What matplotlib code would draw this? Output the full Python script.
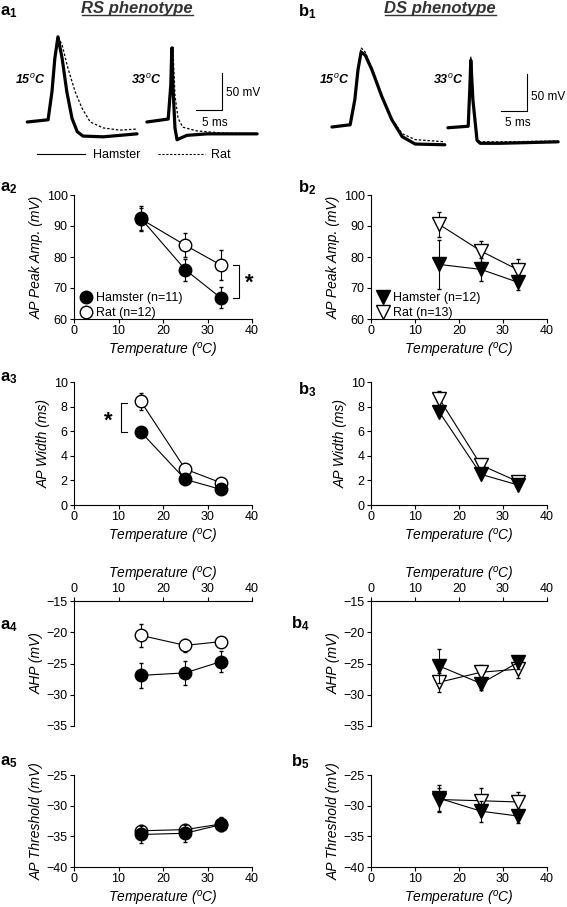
import numpy as np
import matplotlib
matplotlib.use("Agg")

import matplotlib.pyplot as plt
from matplotlib.lines import Line2D

plt.rcParams['font.family'] = ['Liberation Sans', 'DejaVu Sans']
plt.rcParams['mathtext.fontset'] = 'custom'
plt.rcParams['mathtext.rm'] = 'Liberation Sans'
plt.rcParams['mathtext.it'] = 'Liberation Sans:italic'
plt.rcParams['mathtext.bf'] = 'Liberation Sans:bold'

W, H = 567, 907

# ---- data ----
temp_rs = [15, 25, 33]
temp_ds = [15.5, 25, 33.5]

# RS phenotype
rs_amp_ham, rs_amp_ham_err = [92.5, 75.9, 66.8], [4.0, 3.5, 3.4]
rs_amp_rat, rs_amp_rat_err = [92.3, 83.8, 77.4], [3.5, 3.9, 4.9]
rs_wid_ham, rs_wid_ham_err = [5.95, 2.08, 1.27], [0.3, 0.2, 0.15]
rs_wid_rat, rs_wid_rat_err = [8.43, 2.92, 1.81], [0.7, 0.2, 0.15]
rs_ahp_ham, rs_ahp_ham_err = [-26.9, -26.5, -24.7], [2.0, 1.9, 1.7]
rs_ahp_rat, rs_ahp_rat_err = [-20.5, -22.1, -21.5], [1.8, 1.1, 0.6]
rs_thr_ham, rs_thr_ham_err = [-34.7, -34.5, -33.1], [1.4, 1.4, 1.1]
rs_thr_rat, rs_thr_rat_err = [-34.1, -33.9, -33.0], [1.0, 0.9, 1.1]

# DS phenotype
ds_amp_ham, ds_amp_ham_err = [77.6, 76.0, 71.8], [8.0, 3.6, 2.4]
ds_amp_rat, ds_amp_rat_err = [90.5, 81.9, 75.8], [3.9, 3.4, 3.5]
ds_wid_ham, ds_wid_ham_err = [7.57, 2.49, 1.62], [0.3, 0.2, 0.15]
ds_wid_rat, ds_wid_rat_err = [8.65, 3.24, 1.89], [0.6, 0.2, 0.15]
ds_ahp_ham, ds_ahp_ham_err = [-25.4, -28.2, -24.8], [2.7, 1.1, 1.0]
ds_ahp_rat, ds_ahp_rat_err = [-28.0, -26.4, -25.9], [1.5, 1.2, 1.4]
ds_thr_ham, ds_thr_ham_err = [-28.8, -30.9, -31.7], [2.2, 1.7, 1.2]
ds_thr_rat, ds_thr_rat_err = [-29.0, -29.2, -29.4], [1.8, 2.0, 1.7]

# example AP traces (ms, mV)
rs15_ham_t = [1.4, 5.4, 6.15, 6.7, 7.3, 8.1, 9.0, 10.0, 11.0, 12.1, 16.0, 22.5]
rs15_ham_v = [-65, -62, -24, 21, 50, 21, -24, -60, -78, -84, -85, -81]
rs15_rat_t = [1.4, 5.4, 6.15, 6.7, 7.3, 8.1, 9.2, 10.6, 11.9, 13.5, 16.0, 19.2, 22.5]
rs15_rat_v = [-65, -62, -24, 21, 50, 39, 8, -24, -46, -65, -73, -76, -74.5]
rs33_ham_t = [24.4, 28.5, 29.0, 29.2, 29.4, 29.8, 30.2, 30.8, 32.1, 36.0, 45.6]
rs33_ham_v = [-65, -61, -15, 35, -15, -73, -89, -87, -83, -81, -81]
rs33_rat_t = [24.4, 28.5, 29.0, 29.4, 29.8, 30.4, 31.3, 34.0, 39.0, 45.6]
rs33_rat_v = [-65, -61, -15, 36, -29, -60, -72, -77, -80, -81]

ds15_ham_t = [2.3, 5.8, 6.7, 7.3, 7.9, 8.7, 10.0, 11.9, 13.8, 15.8, 18.3, 24.0]
ds15_ham_v = [-65, -62, -28, 12, 36, 32, 12, -24, -55, -78, -88, -89]
ds15_rat_t = [2.3, 5.8, 6.7, 7.3, 7.9, 8.7, 10.0, 11.9, 13.8, 15.8, 18.3, 24.0]
ds15_rat_v = [-65, -62, -28, 12, 42, 36, 14, -23, -54, -74, -82, -85]
ds33_ham_t = [24.6, 28.5, 28.8, 29.0, 29.2, 29.4, 30.2, 30.8, 34.6, 45.8]
ds33_ham_v = [-66, -64, -15, 25, -1, -28, -83, -87, -87, -85]
ds33_rat_t = [24.6, 28.5, 28.8, 29.0, 29.2, 29.4, 30.2, 30.8, 34.6, 45.8]
ds33_rat_v = [-66, -64, -15, 30, 2, -26, -81, -85, -85, -84]

fig = plt.figure(figsize=(W / 100, H / 100), dpi=100)


def px_axes(x0, y0, x1, y1):
    return fig.add_axes([x0 / W, 1 - y1 / H, (x1 - x0) / W, (y1 - y0) / H])


def ftext(x, y, s, **kw):
    fig.text(x / W, 1 - y / H, s, **kw)


def fline(xs, ys, **kw):
    fig.add_artist(Line2D([x / W for x in xs], [1 - y / H for y in ys], **kw))


# ---- traces ----
def trace_panel(x0, x1, base_py, traces, scale):
    ax = px_axes(x0, 25, x1, 160)
    ax.set_xlim(0, (x1 - x0) / 5.2)
    ax.set_ylim(-65 + (base_py - 160) * 1.35, -65 + (base_py - 25) * 1.35)
    ax.axis("off")
    for t, v, style in traces:
        if style == "ham":
            ax.plot(t, v, color="k", lw=2.3, solid_joinstyle="round", solid_capstyle="round")
        else:
            ax.plot(t, v, color="k", lw=0.9, dashes=(2, 1.5))
    sx0, sx1, sy0, sy1 = scale
    ax.plot([sx0, sx1, sx1], [sy0, sy0, sy1], color="k", lw=0.8)
    return ax


trace_panel(20, 280, 122,
            [(rs15_ham_t, rs15_ham_v, "ham"), (rs15_rat_t, rs15_rat_v, "rat"),
             (rs33_ham_t, rs33_ham_v, "ham"), (rs33_rat_t, rs33_rat_v, "rat")],
            (33.8, 38.8, -49, 1))
trace_panel(320, 565, 127,
            [(ds15_ham_t, ds15_ham_v, "ham"), (ds15_rat_t, ds15_rat_v, "rat"),
             (ds33_ham_t, ds33_ham_v, "ham"), (ds33_rat_t, ds33_rat_v, "rat")],
            (34.8, 39.8, -43.4, 6.6))

# trace annotations
for x, lbl in [(30, "15$^o$C"), (146, "33$^o$C"), (334, "15$^o$C"), (448, "33$^o$C")]:
    ftext(x, 80, lbl, fontsize=9, fontweight="bold", style="italic", ha="center", va="center")
ftext(226, 93, "50 mV", fontsize=8.5, ha="left", va="center")
ftext(215, 123, "5 ms", fontsize=8.5, ha="center", va="center")
ftext(531, 97, "50 mV", fontsize=8.5, ha="left", va="center")
ftext(518, 123, "5 ms", fontsize=8.5, ha="center", va="center")

fline([37, 85], [154, 154], color="k", lw=0.8)
ftext(93, 155, "Hamster", fontsize=9, ha="left", va="center")
fline([158, 205], [154, 154], color="k", lw=0.8, dashes=(2, 1.5))
ftext(211, 155, "Rat", fontsize=9, ha="left", va="center")

# titles
for xc, x0, x1, s in [(137, 82, 193, "RS phenotype"), (440, 385, 496, "DS phenotype")]:
    ftext(xc, 8, s, fontsize=12, fontweight="bold", style="italic", ha="center", va="center",
          color="#333333")
    fline([x0, x1], [15, 15], color="#333333", lw=1.0)

# panel letters
for x, y, s in [(0, 12, "a_1"), (298, 12, "b_1"), (0, 188, "a_2"), (298, 188, "b_2"),
                (0, 378, "a_3"), (298, 390, "b_3"), (0, 626, "a_4"), (291, 624, "b_4"),
                (0, 762, "a_5"), (291, 762, "b_5")]:
    letter, num = s.split("_")
    ftext(x, y, r"$\mathbf{%s}_{\mathbf{%s}}$" % (letter, num), fontsize=12, ha="left", va="center")


# ---- summary plots ----
def summary(ax, temp, ham, ham_err, rat, rat_err, marker, ylim, yticks, ylabel, top=False):
    ms = 9 if marker == "o" else 10
    ax.errorbar(temp, rat, yerr=rat_err, fmt="-" + marker, color="k", mfc="white", mec="k",
                ms=ms, lw=0.8, elinewidth=0.8, capsize=1.5, mew=1, zorder=2)
    ax.errorbar(temp, ham, yerr=ham_err, fmt="-" + marker, color="k", mfc="k", mec="k",
                ms=ms, lw=0.8, elinewidth=0.8, capsize=1.5, mew=1, zorder=3)
    ax.set_xlim(0, 40)
    ax.set_ylim(*ylim)
    ax.set_xticks([0, 10, 20, 30, 40])
    ax.set_yticks(yticks)
    ax.tick_params(labelsize=9, length=3, width=0.8, pad=1.5)
    ax.spines["right"].set_visible(False)
    if top:
        ax.spines["bottom"].set_visible(False)
        ax.xaxis.tick_top()
        ax.xaxis.set_label_position("top")
    else:
        ax.spines["top"].set_visible(False)
    for sp in ax.spines.values():
        sp.set_linewidth(0.8)
    ax.set_xlabel("Temperature ($^o$C)", fontsize=10, style="italic", labelpad=3)
    ax.set_ylabel(ylabel, fontsize=10, style="italic", labelpad=2)
    ax.patch.set_alpha(0)


AX_L = (74, 252)
AX_R = (371, 547)
rows = [(195, 319), (382, 505), (601, 726), (775, 867)]

a2 = px_axes(AX_L[0], rows[0][0], AX_L[1], rows[0][1])
summary(a2, temp_rs, rs_amp_ham, rs_amp_ham_err, rs_amp_rat, rs_amp_rat_err, "o",
        (60, 100), [60, 70, 80, 90, 100], "AP Peak Amp. (mV)")
b2 = px_axes(AX_R[0], rows[0][0], AX_R[1], rows[0][1])
summary(b2, temp_ds, ds_amp_ham, ds_amp_ham_err, ds_amp_rat, ds_amp_rat_err, "v",
        (60, 100), [60, 70, 80, 90, 100], "AP Peak Amp. (mV)")

a3 = px_axes(AX_L[0], rows[1][0], AX_L[1], rows[1][1])
summary(a3, temp_rs, rs_wid_ham, rs_wid_ham_err, rs_wid_rat, rs_wid_rat_err, "o",
        (0, 10), [0, 2, 4, 6, 8, 10], "AP Width (ms)")
b3 = px_axes(AX_R[0], rows[1][0], AX_R[1], rows[1][1])
summary(b3, temp_ds, ds_wid_ham, ds_wid_ham_err, ds_wid_rat, ds_wid_rat_err, "v",
        (0, 10), [0, 2, 4, 6, 8, 10], "AP Width (ms)")

a4 = px_axes(AX_L[0], rows[2][0], AX_L[1], rows[2][1])
summary(a4, temp_rs, rs_ahp_ham, rs_ahp_ham_err, rs_ahp_rat, rs_ahp_rat_err, "o",
        (-35, -15), [-35, -30, -25, -20, -15], "AHP (mV)", top=True)
b4 = px_axes(AX_R[0], rows[2][0], AX_R[1], rows[2][1])
summary(b4, temp_ds, ds_ahp_ham, ds_ahp_ham_err, ds_ahp_rat, ds_ahp_rat_err, "v",
        (-35, -15), [-35, -30, -25, -20, -15], "AHP (mV)", top=True)

a5 = px_axes(AX_L[0], rows[3][0], AX_L[1], rows[3][1])
summary(a5, temp_rs, rs_thr_ham, rs_thr_ham_err, rs_thr_rat, rs_thr_rat_err, "o",
        (-40, -25), [-40, -35, -30, -25], "AP Threshold (mV)")
b5 = px_axes(AX_R[0], rows[3][0], AX_R[1], rows[3][1])
summary(b5, temp_ds, ds_thr_ham, ds_thr_ham_err, ds_thr_rat, ds_thr_rat_err, "v",
        (-40, -25), [-40, -35, -30, -25], "AP Threshold (mV)")

# legends (marker-only keys)
for ax, marker, n_ham, n_rat in [(a2, "o", 11, 12), (b2, "v", 12, 13)]:
    ms = 9 if marker == "o" else 10
    h_ham = Line2D([], [], ls="none", marker=marker, ms=ms, mfc="k", mec="k", mew=1)
    h_rat = Line2D([], [], ls="none", marker=marker, ms=ms, mfc="white", mec="k", mew=1)
    ax.legend([h_ham, h_rat], [f"Hamster (n={n_ham})", f"Rat (n={n_rat})"],
              loc="lower left", bbox_to_anchor=(0.035, 0.0), frameon=False,
              fontsize=9, handlelength=0.9, handletextpad=0.4, labelspacing=0.2,
              borderpad=0, borderaxespad=0)

# significance brackets
a2.plot([35.8, 37, 37, 35.8], [77.4, 77.4, 66.8, 66.8], color="k", lw=0.8, clip_on=False)
a2.text(39.3, 71.5, "*", fontsize=16, fontweight="bold", ha="center", va="center")
a3.plot([11.8, 10.6, 10.6, 11.8], [8.3, 8.3, 5.9, 5.9], color="k", lw=0.8, clip_on=False)
a3.text(7.7, 6.8, "*", fontsize=16, fontweight="bold", ha="center", va="center")

fig.savefig("out.png", dpi=100)
